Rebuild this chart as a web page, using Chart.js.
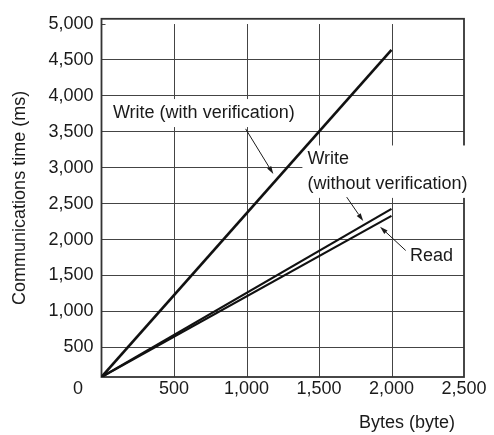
<!DOCTYPE html>
<html lang="en">
<head>
<meta charset="UTF-8" />
<title>Communications time</title>
<script src="https://cdn.jsdelivr.net/npm/chart.js"></script>
<style>
  html, body { margin: 0; padding: 0; background: #fff; }
</style>
</head>
<body>
<canvas id="chart" width="494" height="435"></canvas>
<script>
  // values
  const bytes = [0, 2000];
  const writeVerify = [87, 4640];
  const writeNoVerify = [87, 2427];
  const readTime = [87, 2330];

  const xTicks = [0, 500, 1000, 1500, 2000, 2500];
  const yTicks = [500, 1000, 1500, 2000, 2500, 3000, 3500, 4000, 4500, 5000];

  // callouts, placed in data units
  const notes = [
    { lines: ['Write (with verification)'], x: 79, y: [3761], from: [994, 3541], to: [1185, 2912] },
    { lines: ['Write', '(without verification)'], x: 1420, y: [3115, 2775], from: [1691, 2591], to: [1805, 2257] },
    { lines: ['Read'], x: 2128, y: [1766], from: [2098, 1848], to: [1921, 2179] }
  ];

  const FAMILY = '"Liberation Sans", Arial, Helvetica, sans-serif';
  const FONT = '18px ' + FAMILY;
  const INK = '#1a1a1a';

  function pts(ys) {
    return bytes.map((b, i) => ({ x: b, y: ys[i] }));
  }

  function arrow(ctx, x1, y1, x2, y2) {
    const ang = Math.atan2(y2 - y1, x2 - x1);
    const len = 8, half = 2.4;
    ctx.beginPath();
    ctx.moveTo(x1, y1);
    ctx.lineTo(x2 - Math.cos(ang) * len, y2 - Math.sin(ang) * len);
    ctx.stroke();
    ctx.beginPath();
    ctx.moveTo(x2, y2);
    ctx.lineTo(x2 - Math.cos(ang) * len - Math.sin(ang) * half, y2 - Math.sin(ang) * len + Math.cos(ang) * half);
    ctx.lineTo(x2 - Math.cos(ang) * len + Math.sin(ang) * half, y2 - Math.sin(ang) * len - Math.cos(ang) * half);
    ctx.closePath();
    ctx.fill();
  }

  const decor = {
    id: 'decor',
    beforeDatasetsDraw(chart) {
      const { ctx, chartArea: a, scales: { x, y } } = chart;
      ctx.save();
      // vertical grid only runs up to the 5,000 line
      const yTop = y.getPixelForValue(5000);
      ctx.strokeStyle = '#444';
      ctx.lineWidth = 1;
      xTicks.slice(1, -1).forEach(v => {
        const px = Math.round(x.getPixelForValue(v)) + 0.5;
        ctx.beginPath();
        ctx.moveTo(px, yTop);
        ctx.lineTo(px, a.bottom);
        ctx.stroke();
      });
      ctx.beginPath();
      ctx.moveTo(a.left, Math.round(yTop) + 0.5);
      ctx.lineTo(a.left + 4, Math.round(yTop) + 0.5);
      ctx.stroke();
      // frame
      ctx.strokeStyle = '#333';
      ctx.lineWidth = 1.8;
      ctx.strokeRect(a.left, a.top, a.right - a.left, a.bottom - a.top);
      // white boxes behind the callout texts
      ctx.font = FONT;
      ctx.fillStyle = '#fff';
      notes.forEach(n => {
        const left = x.getPixelForValue(n.x);
        const w = Math.max(...n.lines.map(t => ctx.measureText(t).width));
        const top = y.getPixelForValue(n.y[0]) - 14;
        const bottom = y.getPixelForValue(n.y[n.y.length - 1]) + 14;
        ctx.fillRect(left - 5, top, w + 9, bottom - top);
      });
      ctx.restore();
    },
    afterDatasetsDraw(chart) {
      const { ctx, chartArea: a, scales: { x, y } } = chart;
      ctx.save();
      ctx.font = FONT;
      ctx.fillStyle = INK;
      ctx.strokeStyle = INK;
      ctx.lineWidth = 1;
      ctx.textAlign = 'left';
      ctx.textBaseline = 'middle';
      notes.forEach(n => {
        n.lines.forEach((t, i) => {
          ctx.fillText(t, x.getPixelForValue(n.x), y.getPixelForValue(n.y[i]));
        });
        arrow(ctx,
          x.getPixelForValue(n.from[0]), y.getPixelForValue(n.from[1]),
          x.getPixelForValue(n.to[0]), y.getPixelForValue(n.to[1]));
      });
      // the shared "0" at the corner
      ctx.textAlign = 'center';
      ctx.fillText('0', a.left - 23.5, a.bottom + 12);
      ctx.restore();
    }
  };

  new Chart(document.getElementById('chart'), {
    type: 'line',
    data: {
      datasets: [
        { label: 'Write (with verification)', data: pts(writeVerify), borderColor: '#111', borderWidth: 2.6 },
        { label: 'Write (without verification)', data: pts(writeNoVerify), borderColor: '#111', borderWidth: 2.2 },
        { label: 'Read', data: pts(readTime), borderColor: '#111', borderWidth: 2.2 }
      ]
    },
    options: {
      responsive: false,
      animation: false,
      devicePixelRatio: 1,
      layout: { padding: { top: 15, right: 30, left: 0, bottom: 0 } },
      elements: { point: { radius: 0 }, line: { tension: 0, borderCapStyle: 'butt' } },
      plugins: { legend: { display: false }, tooltip: { enabled: false } },
      scales: {
        x: {
          type: 'linear',
          min: 0,
          max: 2500,
          afterBuildTicks: s => { s.ticks = xTicks.map(v => ({ value: v })); },
          afterFit: s => { s.height = 58; },
          grid: { display: false, drawTicks: false },
          border: { display: false },
          ticks: {
            padding: 1,
            color: INK,
            font: { family: FAMILY, size: 18 },
            callback: v => v === 0 ? '' : v.toLocaleString('en-US')
          },
          title: {
            display: true,
            text: 'Bytes (byte)\u2002',
            align: 'end',
            color: INK,
            font: { family: FAMILY, size: 18 },
            padding: { top: 0, bottom: 1 }
          }
        },
        y: {
          min: 87,
          max: 5073,
          afterBuildTicks: s => { s.ticks = yTicks.map(v => ({ value: v })); },
          afterFit: s => { s.width = 101.5; },
          grid: {
            drawTicks: false,
            lineWidth: 1,
            color: c => (c.tick && c.tick.value === 5000) ? 'rgba(0,0,0,0)' : '#444'
          },
          border: { display: false },
          ticks: {
            padding: 8,
            color: INK,
            font: { family: FAMILY, size: 18 },
            callback: v => v.toLocaleString('en-US')
          },
          title: {
            display: true,
            text: 'Communications time (ms)',
            color: INK,
            font: { family: FAMILY, size: 18 },
            padding: { top: 9, bottom: 0 }
          }
        }
      }
    },
    plugins: [decor]
  });
</script>
</body>
</html>
